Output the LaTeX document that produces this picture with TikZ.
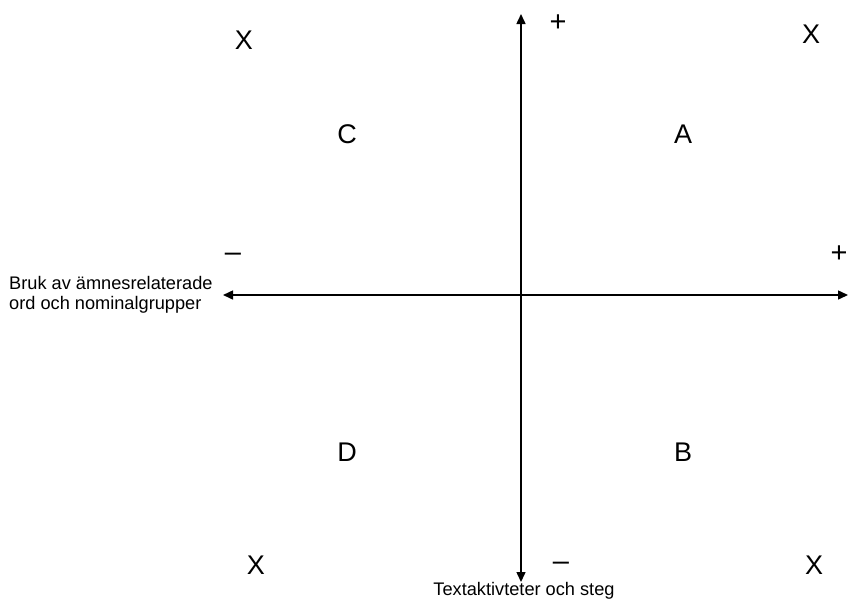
\documentclass[tikz,border=0pt]{standalone}
\usepackage{fontspec}
\setmainfont{Liberation Sans}
\usetikzlibrary{arrows.meta}
\begin{document}
\begin{tikzpicture}[x=1pt,y=-1pt,
  axis/.style={line width=1.5pt,{Triangle[length=10pt,width=9pt]}-{Triangle[length=10pt,width=9pt]}},
  big/.style={font=\fontsize{27}{32}\selectfont,inner sep=0pt},
  sign/.style={font=\fontsize{29}{32}\selectfont,inner sep=0pt},
  small/.style={font=\fontsize{18.2}{20.5}\selectfont,inner sep=0pt}]
\useasboundingbox (0,0) rectangle (849,600);
\coordinate (top) at (521,14);
\coordinate (bot) at (521,582);
\coordinate (left) at (223,295);
\coordinate (right) at (848,295);
\draw[axis] (top) -- (bot);
\draw[axis] (left) -- (right);
\node[big] (x1) at (244,40) {X};
\node[big] (x2) at (811,34) {X};
\node[big] (x3) at (256,565) {X};
\node[big] (x4) at (814,565) {X};
\node[big] (c) at (347,134) {C};
\node[big] (a) at (683,134) {A};
\node[big] (d) at (347,452) {D};
\node[big] (b) at (683,452) {B};
\node[sign] (p1) at (558,23) {+};
\node[sign] (p2) at (839,254) {+};
\node[sign] (m1) at (233,257) {–};
\node[sign] (m2) at (561,566) {–};
\node[small,anchor=west,align=left] (lbl) at (9,295) {Bruk av ämnesrelaterade\\ord och nominalgrupper};
\node[small] (lbl2) at (524,591) {Textaktivteter och steg};
\end{tikzpicture}
\end{document}
